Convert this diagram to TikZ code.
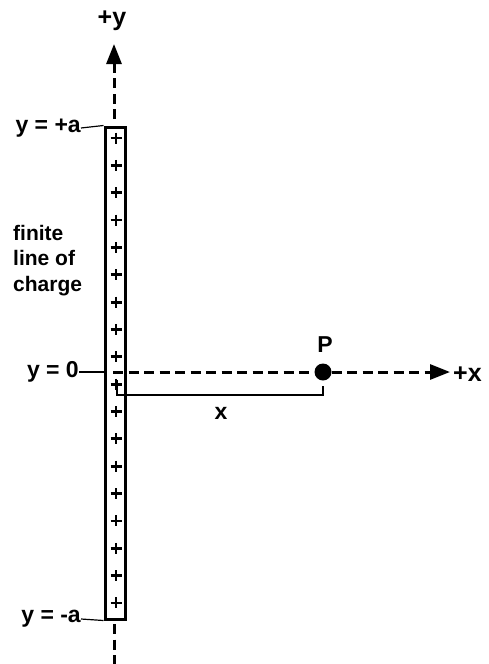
\documentclass[tikz,border=0pt]{standalone}
\usepackage{fontspec}
\setmainfont{Liberation Sans}
\usetikzlibrary{arrows.meta}
\begin{document}
\begin{tikzpicture}[x=1pt,y=-1pt,
  lbl/.style={font=\fontsize{23}{25}\selectfont\bfseries, inner sep=0pt},
  big/.style={font=\fontsize{25}{27}\selectfont\bfseries, inner sep=0pt},
  tick/.style={line width=1.2pt},
  axis/.style={line width=3pt, dash pattern=on 10pt off 5.5pt},
  tip/.style={-{Triangle[length=20pt,width=15pt]}},
  plus/.style={line width=2.8pt},
  rodbox/.style={draw, line width=3pt, minimum width=20pt, minimum height=492pt, inner sep=0pt}]
\useasboundingbox (0,0) rectangle (488,664);
% rod
\node[rodbox] (rod) at (115,373) {};
% plus signs
\foreach \i in {0,...,17}{
  \pgfmathsetmacro{\yy}{138+\i*27.35}
  \draw[plus] (110.5,\yy) -- (121.5,\yy) (116,\yy-5.5) -- (116,\yy+5.5);
}
% y axis
\coordinate (ystart) at (114,119);
\coordinate (ytip) at (114,44);
\draw[axis,tip] (ystart) -- (ytip);
\coordinate (ybot) at (114,624);
\coordinate (yend) at (114,664);
\draw[axis] (ybot) -- (yend);
\node[big] (ylab) at (112,21) {+y};
% x axis
\coordinate (o) at (113,372);
\node[circle, fill, minimum size=17pt, inner sep=0pt] (P) at (323,372) {};
\coordinate (xtip) at (450,372);
\draw[axis] (o) -- (P.west);
\draw[axis,tip] (P.east) -- (xtip);
\node[big, anchor=west] (xlab) at (453,374) {+x};
\node[lbl] (plab) at (325,345) {P};
% distance bracket
\coordinate (b1) at (117,380);
\coordinate (b2) at (117,395);
\coordinate (b3) at (323,395);
\coordinate (b4) at (323,386);
\draw[line width=2.2pt] (b1) -- (b2) -- (b3) -- (b4);
\node[lbl] (xd) at (221,413) {x};
% labels on left
\node[lbl, anchor=east] (ya) at (81,128) {y = +a};
\draw[tick] (ya.east) -- (rod.north west);
\node[lbl, anchor=east] (y0) at (79,372) {y = 0};
\draw[tick] (y0.east) -- (105,372);
\node[lbl, anchor=east] (yma) at (81,619) {y = -a};
\draw[tick] (yma.east) -- (rod.south west);
\node[font=\fontsize{21}{25.5}\selectfont\bfseries, align=left, anchor=north west, inner sep=0pt] (fl) at (13,225) {finite\\line of\\charge};
\end{tikzpicture}
\end{document}
